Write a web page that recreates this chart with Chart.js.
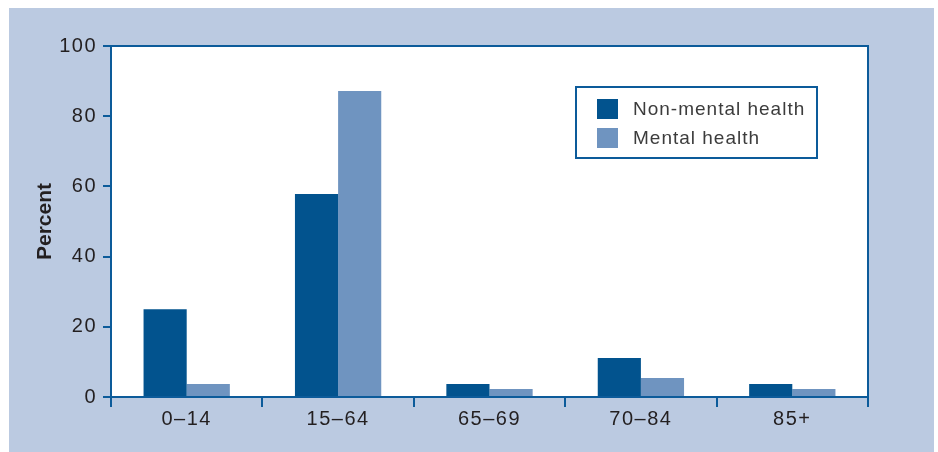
<!DOCTYPE html>
<html>
<head>
<meta charset="utf-8">
<script src="https://cdn.jsdelivr.net/npm/chart.js@4"></script>
<style>
  html, body { margin: 0; padding: 0; background: #ffffff; }
  #wrap { width: 938px; height: 452px; }
</style>
</head>
<body>
<div id="wrap"><canvas id="chart" width="938" height="452"></canvas></div>
<script>
// Age groups and share of patients (%) in each group
const ageGroups = ['0\u201314', '15\u201364', '65\u201369', '70\u201384', '85+'];
const nonMentalHealth = [25, 57.8, 3.7, 11.1, 3.7];
const mentalHealth = [3.7, 87.2, 2.3, 5.4, 2.3];
const seriesNames = ['Non-mental health', 'Mental health'];
const yTicks = [0, 20, 40, 60, 80, 100];

const AXIS_BLUE = '#0c5b9a';
const DARK_BLUE = '#02538e';
const LIGHT_BLUE = '#6f94c0';
const PANEL = '#bbcae1';
const TEXT = '#231f20';
const FONT = '"Liberation Sans", Arial, sans-serif';
const TICK_SPACING = '1.5px';

// Page panel, white plot area, frame and inset legend
const framePlugin = {
  id: 'frame',
  afterLayout(chart) {
    // tick labels are tracked out; the axis title is not
    const y = chart.scales.y;
    if (!y._plainTitle) {
      const orig = y.drawTitle;
      y.drawTitle = function () {
        const ctx = this.ctx;
        ctx.letterSpacing = '0px';
        orig.apply(this, arguments);
        ctx.letterSpacing = TICK_SPACING;
      };
      y._plainTitle = true;
    }
  },
  beforeDraw(chart) {
    const ctx = chart.ctx;
    const a = chart.chartArea;
    ctx.save();
    ctx.fillStyle = '#ffffff';
    ctx.fillRect(0, 0, chart.width, chart.height);
    ctx.fillStyle = PANEL;
    ctx.fillRect(9, 8, 925, chart.height - 8);
    ctx.fillStyle = '#ffffff';
    ctx.fillRect(a.left, a.top, a.right - a.left, a.bottom - a.top);
    ctx.restore();
    ctx.letterSpacing = TICK_SPACING;
  },
  afterDraw(chart) {
    const ctx = chart.ctx;
    const a = chart.chartArea;
    ctx.save();
    ctx.letterSpacing = '0px';
    ctx.strokeStyle = AXIS_BLUE;
    ctx.lineWidth = 2;
    ctx.strokeRect(a.left, a.top, a.right - a.left, a.bottom - a.top);

    // legend box
    const bx = a.right - 292, by = a.top + 41, bw = 241, bh = 71;
    ctx.fillStyle = '#ffffff';
    ctx.fillRect(bx, by, bw, bh);
    ctx.strokeRect(bx, by, bw, bh);
    ctx.font = '19px ' + FONT;
    ctx.letterSpacing = '1px';
    ctx.textBaseline = 'middle';
    ctx.textAlign = 'left';
    chart.data.datasets.forEach((ds, i) => {
      const cy = by + 22 + i * 29;
      ctx.fillStyle = ds.backgroundColor;
      ctx.fillRect(bx + 21, cy - 10, 21, 20);
      ctx.fillStyle = '#3c3c3c';
      ctx.fillText(ds.label, bx + 57, cy + 1);
    });
    ctx.restore();
  }
};

new Chart(document.getElementById('chart'), {
  type: 'bar',
  data: {
    labels: ageGroups,
    datasets: [
      { label: seriesNames[0], data: nonMentalHealth, backgroundColor: DARK_BLUE },
      { label: seriesNames[1], data: mentalHealth, backgroundColor: LIGHT_BLUE }
    ]
  },
  options: {
    responsive: false,
    animation: false,
    devicePixelRatio: 1,
    layout: { padding: { left: 0, top: 46, right: 70, bottom: 0 } },
    plugins: { legend: { display: false }, tooltip: { enabled: false } },
    datasets: { bar: { categoryPercentage: 0.57, barPercentage: 1.0 } },
    scales: {
      x: {
        offset: true,
        afterFit(scale) { scale.height = 55; },
        grid: {
          offset: true,
          drawOnChartArea: false,
          drawTicks: true,
          tickLength: 10,
          color: AXIS_BLUE,
          lineWidth: 2
        },
        border: { display: true, color: AXIS_BLUE, width: 2 },
        ticks: {
          color: TEXT,
          padding: 0,
          font: { family: FONT, size: 20 }
        }
      },
      y: {
        min: 0,
        max: 100,
        afterFit(scale) { scale.width = 111; },
        afterBuildTicks(scale) { scale.ticks = yTicks.map(v => ({ value: v })); },
        grid: {
          drawOnChartArea: false,
          drawTicks: true,
          tickLength: 8,
          color: AXIS_BLUE,
          lineWidth: 2
        },
        border: { display: true, color: AXIS_BLUE, width: 2 },
        ticks: {
          color: TEXT,
          padding: 6,
          font: { family: FONT, size: 20 }
        },
        title: {
          display: true,
          text: 'Percent',
          color: TEXT,
          padding: { top: 33, bottom: 0 },
          font: { family: FONT, size: 21, weight: 'bold' }
        }
      }
    }
  },
  plugins: [framePlugin]
});
</script>
</body>
</html>
